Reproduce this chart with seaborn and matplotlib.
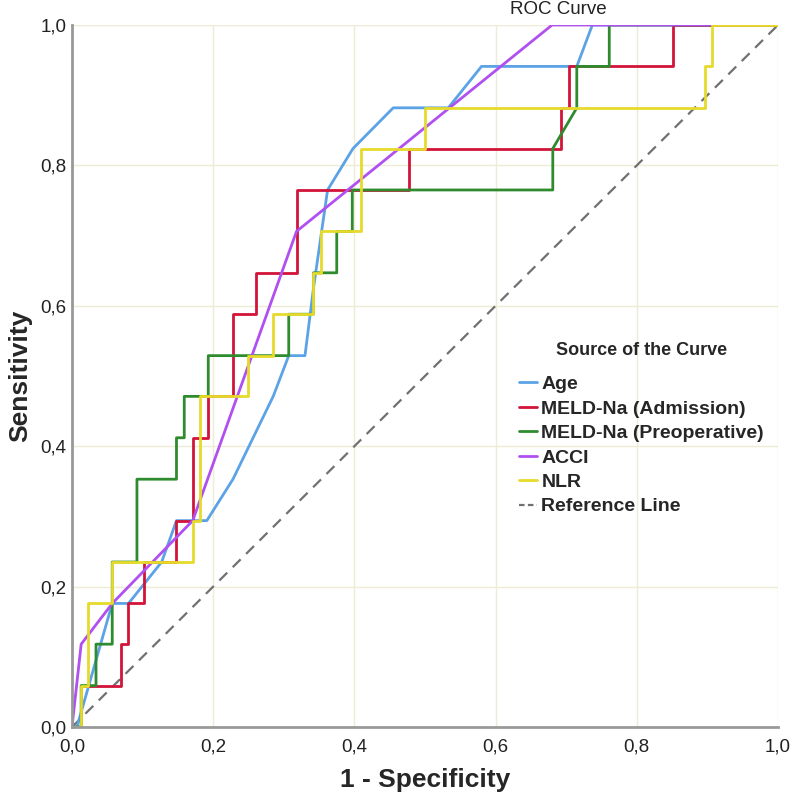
import numpy as np
import pandas as pd
import matplotlib
matplotlib.use("Agg")
import matplotlib.pyplot as plt
import seaborn as sns
from matplotlib.lines import Line2D

curves = ["Age", "MELD-Na (Admission)", "MELD-Na (Preoperative)", "ACCI", "NLR"]

age_x = [0.0, 0.007, 0.057, 0.080, 0.127, 0.148, 0.191, 0.228, 0.285, 0.307, 0.330, 0.342, 0.362, 0.398, 0.455, 0.533, 0.580, 0.715, 0.737, 1.0]
age_y = [0.0, 0.0, 0.176, 0.176, 0.235, 0.294, 0.294, 0.353, 0.471, 0.529, 0.529, 0.625, 0.765, 0.824, 0.882, 0.882, 0.941, 0.941, 1.0, 1.0]

adm_x = [0.0, 0.013, 0.013, 0.069, 0.069, 0.080, 0.080, 0.102, 0.102, 0.148, 0.148, 0.171, 0.171, 0.193, 0.193, 0.228, 0.228, 0.261, 0.261, 0.318, 0.318, 0.477, 0.477, 0.693, 0.693, 0.704, 0.704, 0.851, 0.851, 1.0]
adm_y = [0.0, 0.0, 0.059, 0.059, 0.118, 0.118, 0.176, 0.176, 0.235, 0.235, 0.294, 0.294, 0.412, 0.412, 0.471, 0.471, 0.588, 0.588, 0.647, 0.647, 0.765, 0.765, 0.824, 0.824, 0.882, 0.882, 0.941, 0.941, 1.0, 1.0]

pre_x = [0.0, 0.013, 0.013, 0.034, 0.034, 0.057, 0.057, 0.092, 0.092, 0.148, 0.148, 0.159, 0.159, 0.193, 0.193, 0.307, 0.307, 0.342, 0.342, 0.375, 0.375, 0.397, 0.397, 0.681, 0.681, 0.715, 0.715, 0.761, 0.761, 1.0]
pre_y = [0.0, 0.0, 0.059, 0.059, 0.118, 0.118, 0.235, 0.235, 0.353, 0.353, 0.412, 0.412, 0.471, 0.471, 0.529, 0.529, 0.588, 0.588, 0.647, 0.647, 0.706, 0.706, 0.765, 0.765, 0.824, 0.882, 0.941, 0.941, 1.0, 1.0]

acci_x = [0.0, 0.013, 0.057, 0.171, 0.318, 0.680, 1.0]
acci_y = [0.0, 0.118, 0.176, 0.294, 0.706, 1.0, 1.0]

nlr_x = [0.0, 0.013, 0.013, 0.022, 0.022, 0.057, 0.057, 0.171, 0.171, 0.181, 0.181, 0.250, 0.250, 0.284, 0.284, 0.341, 0.341, 0.352, 0.352, 0.409, 0.409, 0.500, 0.500, 0.897, 0.897, 0.907, 0.907, 1.0]
nlr_y = [0.0, 0.0, 0.059, 0.059, 0.176, 0.176, 0.235, 0.235, 0.294, 0.294, 0.471, 0.471, 0.529, 0.529, 0.588, 0.588, 0.647, 0.647, 0.706, 0.706, 0.824, 0.824, 0.882, 0.882, 0.941, 0.941, 1.0, 1.0]

ref_x = [0.0, 1.0]
ref_y = [0.0, 1.0]

tick_vals = [0.0, 0.2, 0.4, 0.6, 0.8, 1.0]
tick_labels = ["0,0", "0,2", "0,4", "0,6", "0,8", "1,0"]

colors = ["#5BA3E6", "#D2143A", "#2E8B2E", "#B050F0", "#E6DA2A"]

frames = []
for name, xs, ys in zip(curves, [age_x, adm_x, pre_x, acci_x, nlr_x], [age_y, adm_y, pre_y, acci_y, nlr_y]):
    frames.append(pd.DataFrame({"fpr": xs, "tpr": ys, "curve": name, "order": range(len(xs))}))
df = pd.concat(frames, ignore_index=True)

sns.set_style("white")
plt.rcParams["font.family"] = ["Liberation Sans", "DejaVu Sans"]

fig = plt.figure(figsize=(7.94, 8.0), dpi=100)
ax = fig.add_axes([72/794, 73/800, 706/794, 702/800])

for v in tick_vals[1:]:
    ax.axhline(v, color="#EFEBD6", lw=1.0, zorder=0)
    ax.axvline(v, color="#EFEBD6", lw=1.0, zorder=0)

sns.lineplot(data=df, x="fpr", y="tpr", hue="curve", hue_order=curves, palette=colors,
             sort=False, estimator=None, lw=2.0, ax=ax, legend=False)
ax.plot(ref_x, ref_y, color="#707070", lw=1.6, ls=(0, (5, 3.5)), zorder=1)

ax.set_xlim(0, 1)
ax.set_ylim(0, 1)
ax.set_xticks(tick_vals)
ax.set_xticklabels(tick_labels)
ax.set_yticks(tick_vals)
ax.set_yticklabels(tick_labels)
ax.tick_params(length=0, labelsize=13.5, colors="#222222")
ax.tick_params(axis="x", pad=8)
ax.tick_params(axis="y", pad=4)

for s in ["top", "right"]:
    ax.spines[s].set_visible(False)
for s in ["left", "bottom"]:
    ax.spines[s].set_color("#999999")
    ax.spines[s].set_linewidth(2.0)

ax.set_xlabel("1 - Specificity", fontsize=19, fontweight="bold", labelpad=9)
ax.set_ylabel("Sensitivity", fontsize=19, fontweight="bold", labelpad=6)

fig.text(558/794, 1 - 10/800, "ROC Curve", ha="center", va="center", fontsize=13.5, color="#222222")

handles = [Line2D([0], [0], color=c, lw=2.0) for c in colors]
handles.append(Line2D([0], [0], color="#707070", lw=1.6, ls=(0, (2.5, 1.5))))
labels = curves + ["Reference Line"]
leg = ax.legend(handles, labels, title="Source of the Curve", loc="upper left",
                bbox_to_anchor=((519 - 72)/706, (727 - 342)/702), frameon=False,
                borderaxespad=0, borderpad=0,
                handlelength=0.9, handletextpad=0.25, labelspacing=0.35,
                prop={"size": 14, "weight": "bold"}, title_fontproperties={"size": 13, "weight": "bold"})
leg._legend_box.align = "center"
leg._legend_box.sep = 12

fig.savefig("out.png", dpi=100)
